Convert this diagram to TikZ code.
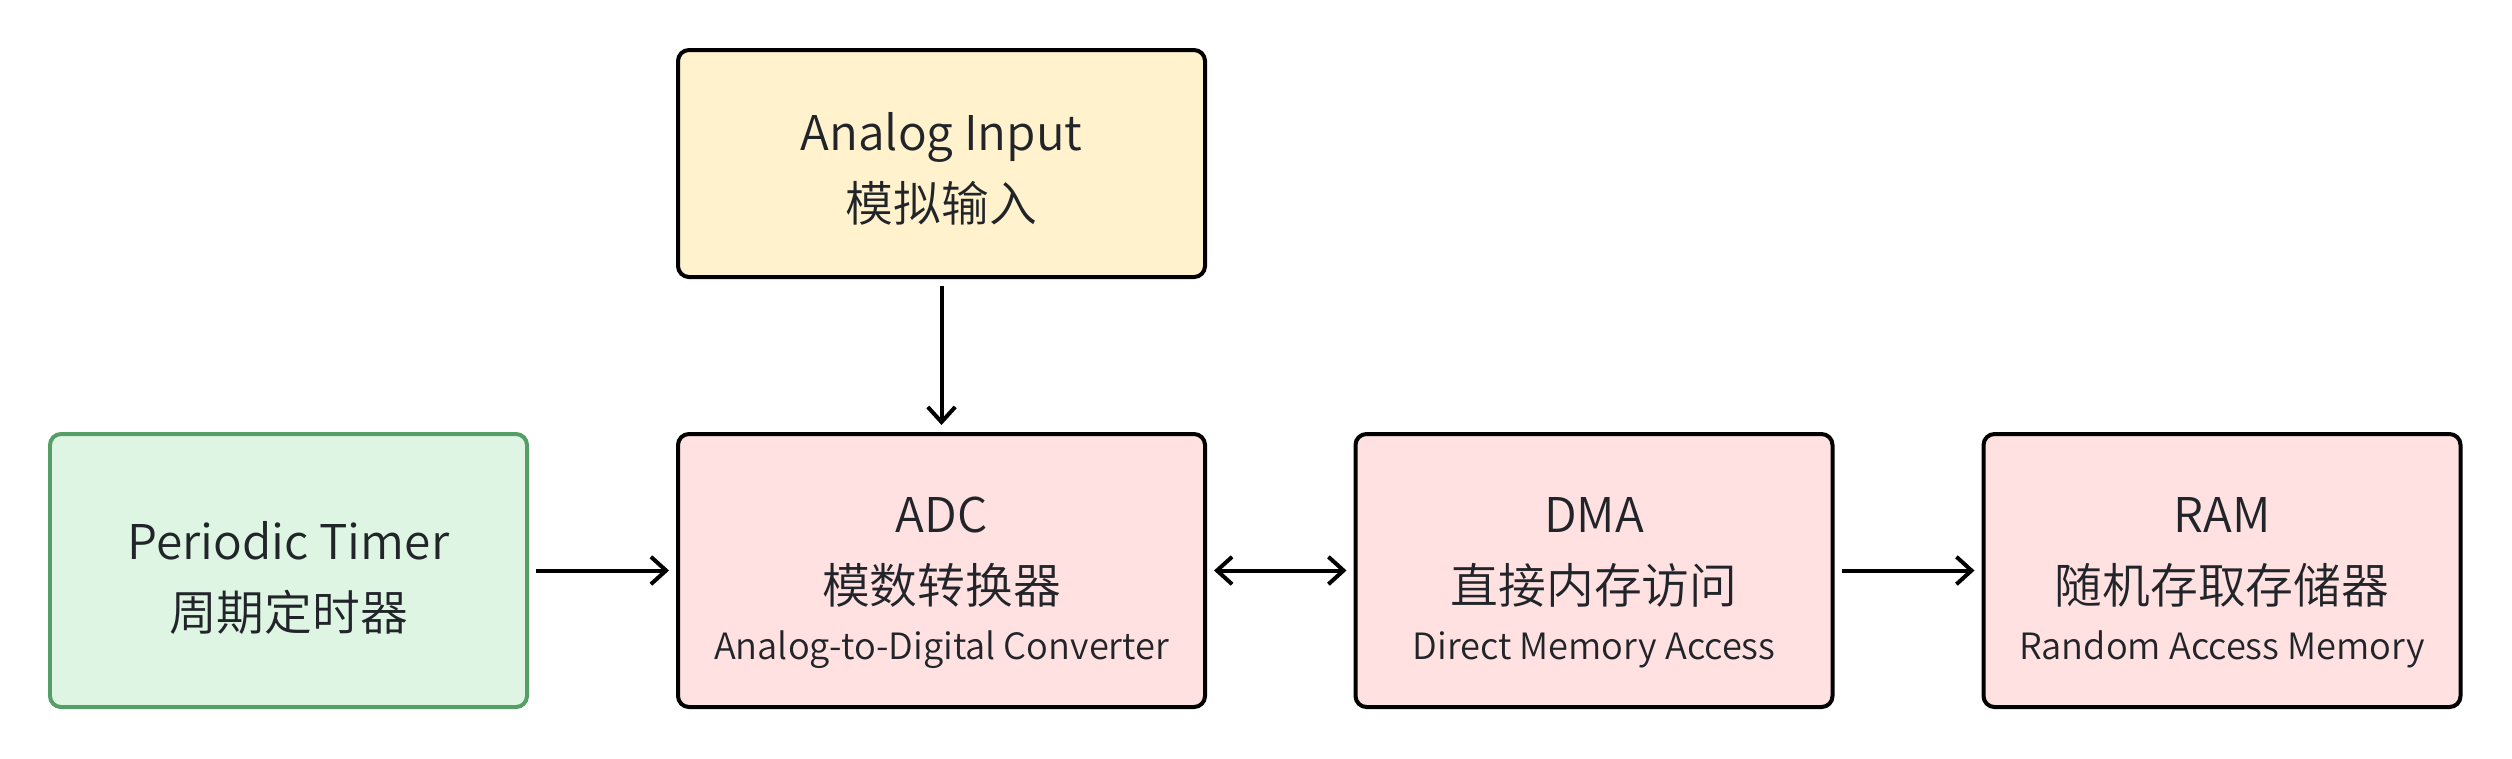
\documentclass[tikz,border=0pt]{standalone}
\usepackage{fontspec}
\setmainfont{Noto Sans CJK SC}[UprightFont=* DemiLight]
\usetikzlibrary{arrows.meta,positioning}

\definecolor{inkgray}{HTML}{212529}
\definecolor{inputfill}{HTML}{FFF2CC}
\definecolor{hwfill}{HTML}{FFE1E1}
\definecolor{timerfill}{HTML}{DFF5E4}
\definecolor{timerline}{HTML}{559E66}

\tikzset{
    block/.style={draw=black, line width=0.04cm, rounded corners=0.11cm, inner sep=0pt},
    wideblock/.style={block, minimum width=5.27cm, minimum height=2.73cm},
    narrowblock/.style={block, minimum width=4.77cm, minimum height=2.73cm},
    blocktext/.style={align=center, text=inkgray, inner sep=0pt,
        font=\fontsize{13.6pt}{20.2pt}\selectfont},
    flow/.style={line width=0.04cm, -{Straight Barb[length=4.3pt,width=7.8pt]},
        shorten <=0.07cm, shorten >=0.07cm},
}
\newcommand{\subline}[1]{\\[-4.4pt]{\fontsize{10.3pt}{12pt}\selectfont #1}}

\begin{document}
\begin{tikzpicture}
    \useasboundingbox (0,0) rectangle (25.12,-7.58);
    % top row
    \node [wideblock, fill=inputfill, minimum height=2.27cm] (input) at (9.415,-1.635) {};
    \node [blocktext] (input-text) at ([yshift=-0.055cm]input.center)
        {Analog Input\\模拟输入};
    % main row
    \node [narrowblock, fill=timerfill, draw=timerline] (timer) at (2.885,-5.705) {};
    \node [blocktext] (timer-text) at ([yshift=-0.07cm]timer.center)
        {Periodic Timer\\周期定时器};
    \node [wideblock, fill=hwfill] (adc) at (9.415,-5.705) {};
    \node [blocktext] (adc-text) at ([yshift=-0.12cm]adc.center)
        {ADC\\模数转换器\subline{Analog-to-Digital Converter}};
    \node [narrowblock, fill=hwfill] (dma) at (15.94,-5.705) {};
    \node [blocktext] (dma-text) at ([yshift=-0.12cm]dma.center)
        {DMA\\直接内存访问\subline{Direct Memory Access}};
    \node [narrowblock, fill=hwfill] (ram) at (22.22,-5.705) {};
    \node [blocktext] (ram-text) at ([yshift=-0.12cm]ram.center)
        {RAM\\随机存取存储器\subline{Random Access Memory}};
    % connections
    \draw [flow] (input) -- (adc);
    \draw [flow] (timer) -- (adc);
    \draw [flow, {Straight Barb[length=4.3pt,width=7.8pt]}-{Straight Barb[length=4.3pt,width=7.8pt]}] (adc) -- (dma);
    \draw [flow] (dma) -- (ram);
\end{tikzpicture}
\end{document}
